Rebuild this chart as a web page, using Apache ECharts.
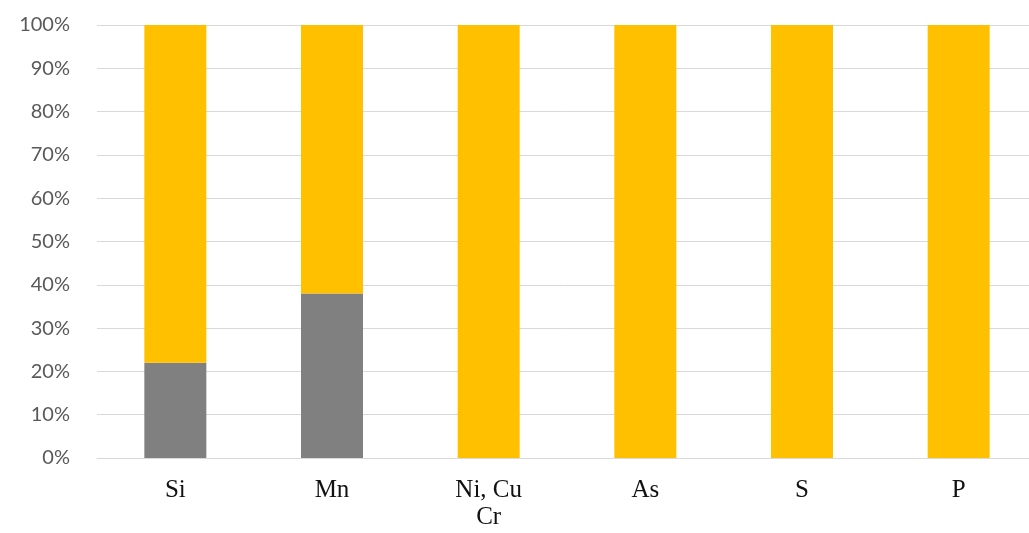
<!DOCTYPE html>
<html>
<head>
<meta charset="utf-8">
<script src="https://cdn.jsdelivr.net/npm/echarts@6/dist/echarts.min.js"></script>
<style>
  html, body { margin: 0; padding: 0; background: #fff; }
  #chart { width: 1029px; height: 533px; }
</style>
</head>
<body>
<div id="chart"></div>
<script>
// categories and stacked shares (percent)
const categories = ['Si', 'Mn', 'Ni, Cu\nCr', 'As', 'S', 'P'];
const grayValues = [22, 38, 0, 0, 0, 0];
const yellowValues = [78, 62, 100, 100, 100, 100];

const chart = echarts.init(document.getElementById('chart'), null, { renderer: 'canvas' });

const option = {
  animation: false,
  // plot runs a little past the right edge, like the cropped original
  grid: { left: 97, width: 940, top: 25, height: 433, outerBoundsMode: 'none' },
  xAxis: {
    type: 'category',
    data: categories,
    axisTick: { show: false },
    axisLine: { lineStyle: { color: '#d9d9d9', width: 1 } },
    axisLabel: {
      color: '#111',
      fontFamily: 'Liberation Serif',
      fontSize: 25,
      margin: 19,
      lineHeight: 27
    }
  },
  yAxis: {
    type: 'value',
    min: 0,
    max: 100,
    interval: 10,
    axisLine: { show: false },
    axisTick: { show: false },
    splitLine: { lineStyle: { color: '#d9d9d9', width: 1 } },
    axisLabel: {
      color: '#595959',
      fontFamily: 'Lato',
      fontSize: 20,
      margin: 27,
      formatter: '{value}%'
    }
  },
  series: [
    {
      name: 'gray',
      type: 'bar',
      stack: 'total',
      barWidth: 62,
      data: grayValues,
      itemStyle: { color: '#808080' }
    },
    {
      name: 'yellow',
      type: 'bar',
      stack: 'total',
      barWidth: 62,
      data: yellowValues,
      itemStyle: { color: '#ffc000' }
    }
  ]
};

chart.setOption(option);
</script>
</body>
</html>
